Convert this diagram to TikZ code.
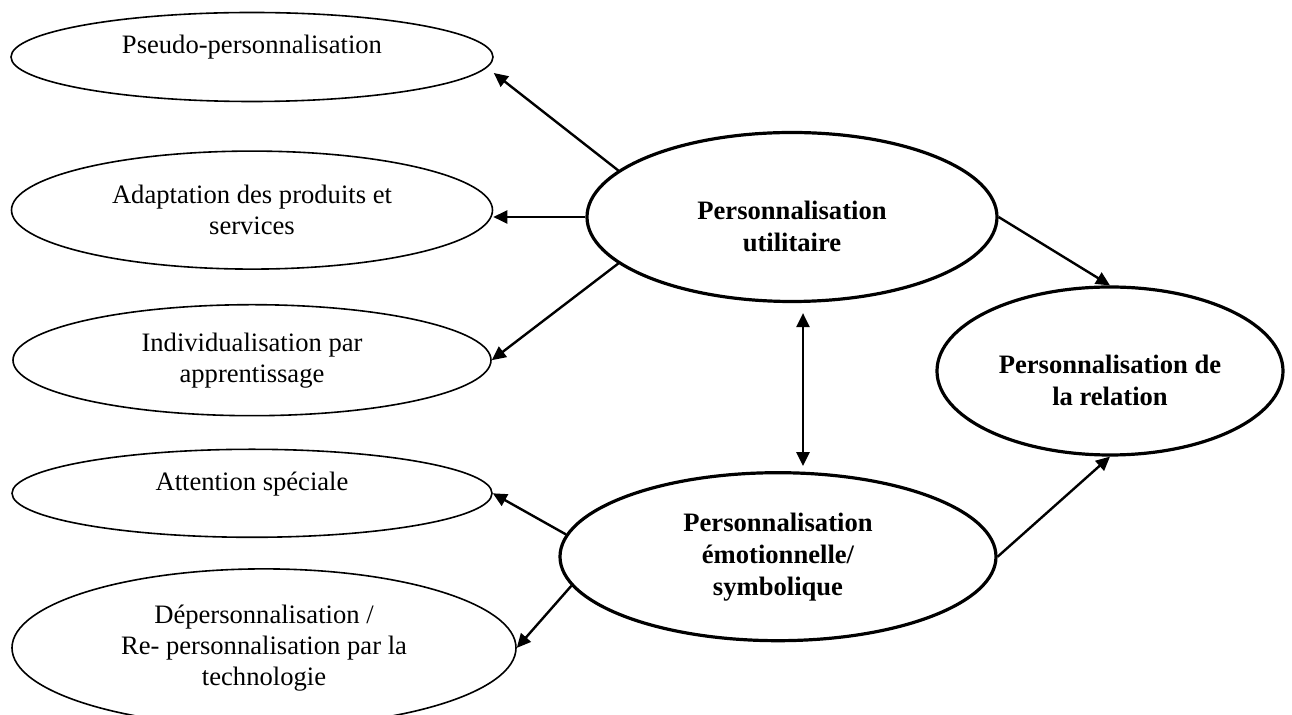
\documentclass[tikz,border=0pt]{standalone}
\usepackage{fontspec}
\setmainfont{Liberation Serif}
\usepackage{tikz}
\usetikzlibrary{positioning,arrows.meta,shapes.geometric}
% move the text inside an oval without changing the oval
\newcommand{\liftby}[2]{\raisebox{#1}[\height][\depth]{\begin{tabular}{@{}c@{}}#2\end{tabular}}}

\begin{document}
\begin{tikzpicture}[x=0.5pt, y=-0.5pt,
    font=\fontsize{13.3}{15.5}\selectfont,
    oval/.style={draw,ellipse,line width=0.8pt,inner sep=0pt,align=center},
    keyoval/.style={draw,ellipse,line width=1.6pt,inner sep=0pt,align=center,
                    font=\fontsize{13.3}{16}\selectfont\bfseries},
    link/.style={-{Triangle[length=7pt,width=6.5pt]},line width=1.2pt},
    dbl/.style={link,{Triangle[length=7pt,width=6.5pt]}-{Triangle[length=7pt,width=6.5pt]}}]
    \useasboundingbox (0,0) rectangle (1292,715);

    % left column
    \node[oval,minimum width=241pt,minimum height=44.5pt] (pseudo) at (252,57) {\liftby{5pt}{Pseudo-personnalisation}};
    \node[oval,minimum width=240.5pt,minimum height=59pt,below=24pt of pseudo] (adapt) {Adaptation des produits et\\services};
    \node[oval,minimum width=239pt,minimum height=55.5pt,below=17pt of adapt] (indiv) {Individualisation par\\apprentissage};
    \node[oval,minimum width=240pt,minimum height=44pt,below=16pt of indiv] (attn) {\liftby{4.5pt}{Attention spéciale}};
    \node[oval,minimum width=252pt,minimum height=79pt,below=15pt of attn,xshift=6pt] (depers) {Dépersonnalisation /\\Re- personnalisation par la\\technologie};

    % main ovals
    \node[keyoval,minimum width=205pt,minimum height=84.5pt] (util) at (792,217) {\liftby{-6pt}{Personnalisation\\utilitaire}};
    \node[keyoval,minimum width=218pt,minimum height=84pt,below=84pt of util,xshift=-7pt] (emo) {Personnalisation\\émotionnelle/\\symbolique};
    \node[keyoval,minimum width=173pt,minimum height=84pt] (rel) at (1110,371) {\liftby{-6pt}{Personnalisation de\\la relation}};

    \draw[link] (util.165) -- ([yshift=-8pt]pseudo.east);
    \draw[link] (util.west) -- (util.west -| adapt.east);
    \draw[link] (util.195) -- (indiv.east);
    \draw[dbl,shorten <=5pt,shorten >=2.5pt] ([xshift=5.5pt]util.south) -- ([xshift=12.5pt]emo.north);
    \draw[link] (util.east) -- (rel.north);
    \draw[link] (emo.east) -- (rel.south);
    \draw[link] (emo.174) -- (attn.east);
    \draw[link] (emo.188) -- (depers.east);
\end{tikzpicture}
\end{document}
